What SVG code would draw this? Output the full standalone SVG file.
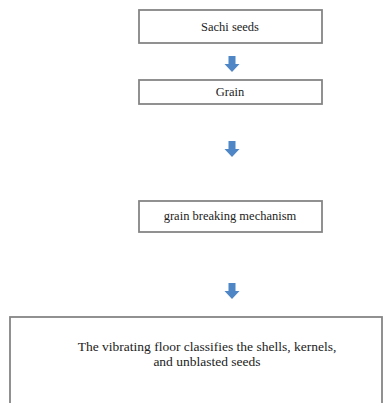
<svg xmlns="http://www.w3.org/2000/svg" width="384" height="403" viewBox="0 0 384 403">
<defs>
<style>
.box{fill:#fff;stroke:#858585;stroke-width:1.8}
.t{font-family:"Liberation Serif","Times New Roman",serif;font-size:12.5px;fill:#222;text-anchor:middle}
.tb{font-size:13.5px}
.arr{fill:#4f86c6}
</style>
<path id="dn" class="arr" d="M-3.5,0 H3.5 V8 H7.5 L0,16 L-7.5,8 H-3.5 Z"/>
</defs>
<rect width="384" height="403" fill="#fff"/>
<g id="connectors">
<use href="#dn" x="232" y="56"/>
<use href="#dn" x="232" y="141"/>
<use href="#dn" x="232" y="283"/>
</g>
<g id="n1"><rect class="box" x="139" y="10" width="183" height="33"/><text class="t" x="230" y="31">Sachi seeds</text></g>
<g id="n2"><rect class="box" x="139" y="80" width="183" height="24"/><text class="t" x="230" y="96">Grain</text></g>
<g id="n3"><rect class="box" x="139" y="201" width="183" height="31"/><text class="t" x="230" y="220">grain breaking mechanism</text></g>
<g id="n4"><rect class="box" x="10" y="317" width="372" height="100"/><text class="t tb" x="207" y="351">The vibrating floor classifies the shells, kernels,</text><text class="t tb" x="207" y="366">and unblasted seeds</text></g>
</svg>
